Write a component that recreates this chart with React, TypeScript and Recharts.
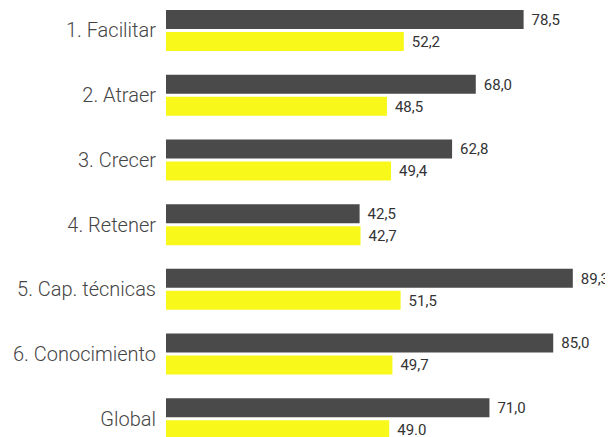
import { Bar, BarChart, LabelList, XAxis, YAxis } from "recharts";

const categories = [
  "1. Facilitar",
  "2. Atraer",
  "3. Crecer",
  "4. Retener",
  "5. Cap. técnicas",
  "6. Conocimiento",
  "Global",
];
const darkValues = [78.5, 68.0, 62.8, 42.5, 89.3, 85.0, 71.0];
const yellowValues = [52.2, 48.5, 49.4, 42.7, 51.5, 49.7, 49.0];
const darkLabels = ["78,5", "68,0", "62,8", "42,5", "89,3", "85,0", "71,0"];
const yellowLabels = ["52,2", "48,5", "49,4", "42,7", "51,5", "49,7", "49.0"];

const data = categories.map((name, i) => ({
  name,
  dark: darkValues[i],
  yellow: yellowValues[i],
  darkLabel: darkLabels[i],
  yellowLabel: yellowLabels[i],
}));

const DARK = "#4a4a4a";
const YELLOW = "#f8f81a";

export default function App() {
  return (
    <div style={{ width: 605, height: 429, overflow: "hidden", fontFamily: "Roboto, sans-serif" }}>
      <div style={{ marginTop: -10 }}>
        <BarChart
          width={605}
          height={453}
          data={data}
          layout="vertical"
          margin={{ top: 0, right: 37, bottom: 0, left: 0 }}
          barSize={19}
          barGap={3}
        >
          <XAxis type="number" domain={[0, 90]} hide />
          <YAxis
            type="category"
            dataKey="name"
            width={158}
            tickLine={false}
            axisLine={false}
            tickSize={0}
            tickMargin={10}
            tick={{ fill: "#444", fontSize: 20, fontWeight: 300 }}
          />
          <Bar dataKey="dark" fill={DARK} isAnimationActive={false}>
            <LabelList dataKey="darkLabel" position="right" offset={8} fill="#333" fontSize={15} />
          </Bar>
          <Bar dataKey="yellow" fill={YELLOW} isAnimationActive={false}>
            <LabelList dataKey="yellowLabel" position="right" offset={8} fill="#333" fontSize={15} />
          </Bar>
        </BarChart>
      </div>
    </div>
  );
}
